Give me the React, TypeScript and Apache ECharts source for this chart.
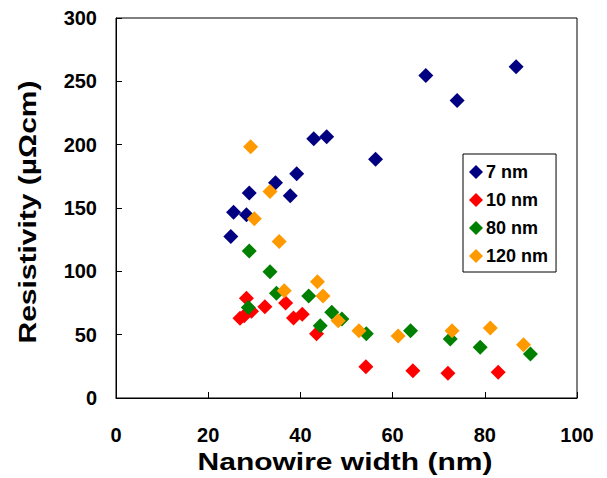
import React, { useEffect, useRef } from "react";
import * as echarts from "echarts";

const seriesNames = ["7 nm", "10 nm", "80 nm", "120 nm"];
const seriesColors = ["#000080", "#FF0000", "#008000", "#FF9900"];

const xTitle = "Nanowire width (nm)";
const yTitle = "Resistivity (µΩcm)";

const nm7: [number, number][] = [
  [24.9, 127.5], [25.5, 146.6], [28.3, 144.7], [28.9, 161.8], [34.6, 169.9],
  [37.8, 159.7], [39.2, 177], [42.9, 204.7], [45.7, 206.2], [56.3, 188.4],
  [67.2, 254.7], [74.0, 234.9], [86.8, 261.5],
];
const nm10: [number, number][] = [
  [26.9, 62.9], [27.8, 65.0], [28.3, 78.7], [29.4, 68.5], [32.3, 72.1],
  [36.8, 75.0], [38.5, 63.2], [40.4, 66.2], [43.5, 50.8], [54.2, 24.7],
  [64.4, 21.6], [72.0, 19.5], [82.9, 20.3],
];
const nm80: [number, number][] = [
  [28.7, 71.5], [28.9, 116], [33.4, 99.7], [34.8, 82.6], [41.8, 80.5],
  [44.3, 57.1], [46.8, 67.6], [49.0, 62.4], [54.3, 50.8], [63.9, 53.1],
  [72.5, 46.6], [79.0, 40.0], [89.9, 34.7],
];
const nm120: [number, number][] = [
  [29.2, 198.3], [30.0, 141.5], [33.4, 163], [35.4, 123.5], [36.5, 84.7],
  [43.7, 91.8], [44.9, 80.5], [48.2, 61.0], [52.7, 53.1], [61.2, 48.9],
  [72.9, 53.1], [81.2, 55.2], [88.4, 42.1],
];
const allData = [nm7, nm10, nm80, nm120];

const xTicks = { min: 0, max: 100, interval: 20 };
const yTicks = { min: 0, max: 300, interval: 50 };

export default function App() {
  const ref = useRef<HTMLDivElement>(null);
  useEffect(() => {
    if (!ref.current) return;
    const chart = echarts.init(ref.current, null, { renderer: "svg" });
    const font = "Liberation Sans, Arial, sans-serif";
    const axisCommon = {
      axisLine: { show: true, onZero: false, lineStyle: { color: "#000", width: 1 } },
      axisTick: { show: true, inside: true, length: 6, lineStyle: { color: "#000" } },
      splitLine: { show: false },
      axisLabel: { color: "#000", fontSize: 20, fontWeight: "bold", fontFamily: font },
    };
    const titleStyle = {
      fill: "#000",
      fontSize: 24,
      fontWeight: "bold",
      fontFamily: font,
      textAlign: "center",
      textVerticalAlign: "middle",
      align: "center",
      verticalAlign: "middle",
    };
    chart.setOption({
      animation: false,
      backgroundColor: "#fff",
      grid: {
        left: 116, right: 30, top: 18, bottom: 80,
        outerBoundsMode: "none", containLabel: false,
        show: true, borderColor: "#000", borderWidth: 1,
      },
      xAxis: {
        type: "value",
        ...xTicks,
        ...axisCommon,
        axisLabel: { ...axisCommon.axisLabel, margin: 27 },
      },
      yAxis: {
        type: "value",
        ...yTicks,
        ...axisCommon,
        axisLabel: { ...axisCommon.axisLabel, margin: 19 },
      },
      graphic: [
        {
          type: "text",
          x: 345,
          y: 462,
          scaleX: 1.25,
          style: { ...titleStyle, text: xTitle },
        },
        {
          type: "text",
          x: 28,
          y: 212,
          rotation: Math.PI / 2,
          scaleX: 1.25,
          style: { ...titleStyle, text: yTitle },
        },
      ],
      legend: {
        orient: "vertical",
        left: 463,
        top: 154,
        width: 92,
        padding: [9, 8, 7, 6],
        itemGap: 10,
        itemWidth: 14,
        itemHeight: 14,
        borderColor: "#000",
        borderWidth: 1,
        backgroundColor: "#fff",
        textStyle: { color: "#000", fontSize: 18, fontWeight: "bold", fontFamily: font, padding: [0, 0, 0, -2] },
        data: seriesNames.map((n) => ({ name: n, icon: "diamond" })),
      },
      series: seriesNames.map((name, i) => ({
        name,
        type: "scatter",
        symbol: "diamond",
        symbolSize: 15,
        itemStyle: { color: seriesColors[i], opacity: 1 },
        data: allData[i],
      })),
    });
    return () => chart.dispose();
  }, []);
  return <div ref={ref} style={{ position: "fixed", left: 0, top: 0, width: 607, height: 478 }} />;
}
